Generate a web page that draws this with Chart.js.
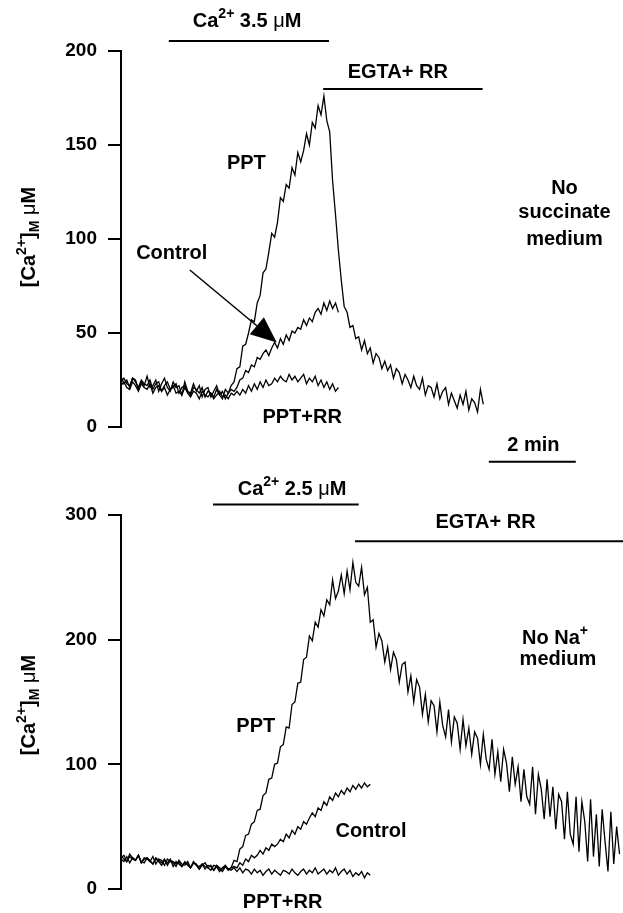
<!DOCTYPE html>
<html>
<head>
<meta charset="utf-8">
<script src="https://cdn.jsdelivr.net/npm/chart.js@4"></script>
<style>
  html, body { margin: 0; padding: 0; background: #fff; }
  #wrap { position: relative; width: 623px; height: 913px; }
  canvas { position: absolute; left: 0; }
  #top { top: 0; }
  #bot { top: 470px; }
</style>
</head>
<body>
<div id="wrap">
  <canvas id="top" width="623" height="470"></canvas>
  <canvas id="bot" width="623" height="443"></canvas>
</div>
<script>
// one sample every 4 s, both recordings
const DT = 4;

// --- No succinate medium (Ca2+ 3.5 uM) ---
const pptTop = [27,23,25,21,26,25,20,24,22,27, 21,22,25,19,23,26,21,19,24,21,
  22,17,24,19,18,23,19,22,16,20, 21,16,19,22,17,15,20,18,
  22,24,31,32,43,44,50,57,56,66, 70,82,84,93,103,101,109,122,120,129,
  127,138,134,146,141,147,156,150,162,159, 171,166,176,163,157,
  131,113,94,78,64, 61,53,54,47,48, 41,46,39,42,34, 39,37,31,35,30,
  33,26,31,29,23, 28,25,21,27,22, 20,26,17,22,21, 16,23,15,19,21,
  12,18,14,10,17, 12,19,9,15,13, 8,20,12];
const controlTop = [24,26,23,22,26,24,21,25,23,22, 25,20,23,24,19,22,24,20,21,23,
  18,21,22,19,17,21,20,18,21,16, 19,18,16,20,17,19,15,18,20,19,
  21,25,26,30,29,33,32,37,36,39, 41,38,42,45,42,47,44,49,46,51,
  50,53,52,57,54,58,56,61,63,60, 66,62,67,63,66,61];
const pptRrTop = [22,24,21,20,24,22,19,23,21,20, 23,18,21,22,19,21,17,20,22,18,
  19,17,21,18,16,19,18,15,19,17, 16,18,15,17,19,16,17,15,18,17,
  19,17,20,18,22,19,23,20,24,21, 25,22,23,26,24,27,25,24,28,25,
  27,24,26,28,23,26,24,27,22,25, 21,24,20,23,19,21];

// --- No Na+ medium (Ca2+ 2.5 uM) ---
const pptBot = [27,24,22,28,25,23,27,21,25,24, 22,26,20,24,23,19,24,22,21,18,
  23,20,19,22,17,21,20,16,19,21, 17,15,19,18,14,17,19,16,
  17,23,22,32,34,43,44,52,54,63, 64,75,77,88,89,100,101,114,116,130,
  129,148,150,165,166,184,186,203,199,214, 210,224,219,232,228,248,233,239,252,237,
  255,240,262,246,243,258,236,242,214,216, 194,205,199,182,194,176,190,184,166,180,
  182,158,171,150,168,162,140,156,134,151, 147,126,150,131,122,144,118,138,133,112,
  136,115,129,108,126,121,100,124,104,96, 120,92,110,86,112,101,78,106,84,98,
  70,96,74,68,98,60,92,80,56,88, 58,82,48,76,70,40,78,44,36,74,
  30,70,54,22,72,26,60,18,64,38, 14,62,20,50,28];
const controlBot = [25,27,22,26,24,23,27,21,24,25, 22,20,25,23,21,24,19,23,22,20,
  22,18,21,20,17,22,19,18,20,16, 19,18,15,19,17,16,18,15,17,18,
  17,21,19,24,22,27,25,27,31,28, 33,31,36,34,36,40,38,44,41,47,
  44,50,48,54,52,57,61,58,65,63, 70,67,74,71,77,74,79,76,81,78,
  83,80,84,81,85,82,84];
const pptRrBot = [24,22,26,21,25,23,27,22,21,25, 23,20,24,22,19,23,21,24,18,22,
  20,18,22,19,17,21,19,16,20,18, 17,19,15,18,16,14,18,16,15,17,
  14,17,13,16,15,12,16,13,15,11, 14,16,12,15,13,11,15,14,12,16,
  13,11,14,16,12,15,13,17,12,14, 16,12,15,13,17,11,14,16,12,15,
  10,13,11,14,9,13,11];

const FAM = '"Liberation Sans", Arial, Helvetica, sans-serif';
Chart.defaults.font.family = FAM;
Chart.defaults.color = '#000';

function trace(vals) {
  return {
    data: vals.map((v, i) => ({ x: i * DT, y: v })),
    borderColor: '#000',
    borderWidth: 1.3,
    pointRadius: 0,
    tension: 0,
    fill: false
  };
}

// tiny markup: ^{..} superscript, _{..} subscript, μ in regular weight
function runs(str) {
  return str.split(/(\^\{[^}]*\}|_\{[^}]*\}|μ)/).filter(s => s).map(s => {
    if (s[0] === '^') return [s.slice(2, -1), 'sup'];
    if (s[0] === '_') return [s.slice(2, -1), 'sub'];
    if (s === 'μ') return [s, 'mu'];
    return [s, 'n'];
  });
}
function runFont(kind, size) {
  if (kind === 'sup' || kind === 'sub') return 'bold ' + Math.round(size * 0.68) + 'px ' + FAM;
  if (kind === 'mu') return size + 'px ' + FAM;
  return 'bold ' + size + 'px ' + FAM;
}
function drawRich(ctx, str, x, y, size) {
  const parts = runs(str);
  let w = 0;
  parts.forEach(p => { ctx.font = runFont(p[1], size); w += ctx.measureText(p[0]).width; });
  let cx = x - w / 2;
  ctx.textAlign = 'left';
  ctx.textBaseline = 'middle';
  parts.forEach(p => {
    ctx.font = runFont(p[1], size);
    const dy = p[1] === 'sup' ? -size * 0.36 : p[1] === 'sub' ? size * 0.3 : 0;
    ctx.fillText(p[0], cx, y + dy);
    cx += ctx.measureText(p[0]).width;
  });
}

const notesPlugin = {
  id: 'notes',
  afterDraw(chart, args, opts) {
    const ctx = chart.ctx, xs = chart.scales.x, ys = chart.scales.y;
    const px = t => xs.getPixelForValue(t), py = v => ys.getPixelForValue(v);
    ctx.save();
    ctx.fillStyle = '#000';
    ctx.strokeStyle = '#000';
    ctx.lineWidth = 2;
    (opts.bars || []).forEach(b => {
      ctx.beginPath();
      ctx.moveTo(px(b[0]), py(b[2]));
      ctx.lineTo(px(b[1]), py(b[2]));
      ctx.stroke();
    });
    (opts.texts || []).forEach(t => drawRich(ctx, t[0], px(t[1]), py(t[2]), 20));
    if (opts.arrow) {
      const a = opts.arrow;
      const x0 = px(a[0]), y0 = py(a[1]), x1 = px(a[2]), y1 = py(a[3]);
      const ang = Math.atan2(y1 - y0, x1 - x0), len = 26, half = 11;
      const bx = x1 - len * Math.cos(ang), by = y1 - len * Math.sin(ang);
      ctx.lineWidth = 1.5;
      ctx.beginPath();
      ctx.moveTo(x0, y0);
      ctx.lineTo(bx, by);
      ctx.stroke();
      ctx.beginPath();
      ctx.moveTo(x1, y1);
      ctx.lineTo(bx + half * Math.sin(ang), by - half * Math.cos(ang));
      ctx.lineTo(bx - half * Math.sin(ang), by + half * Math.cos(ang));
      ctx.closePath();
      ctx.fill();
    }
    if (opts.title) {
      ctx.translate(opts.title[1], opts.title[2]);
      ctx.rotate(-Math.PI / 2);
      drawRich(ctx, opts.title[0], 0, 0, 20);
    }
    ctx.restore();
  }
};

function panel(id, datasets, yMax, step, pad, notes) {
  return new Chart(document.getElementById(id), {
    type: 'line',
    data: { datasets },
    plugins: [notesPlugin],
    options: {
      responsive: false,
      animation: false,
      events: [],
      layout: { padding: { top: pad[0], bottom: pad[1], left: 0, right: 2 } },
      plugins: { legend: { display: false }, tooltip: { enabled: false }, notes },
      scales: {
        x: { type: 'linear', min: 0, max: 690, display: false },
        y: {
          min: 0, max: yMax,
          ticks: { stepSize: step, color: '#000', padding: 11, font: { size: 19, weight: 'bold' } },
          grid: { drawOnChartArea: false, drawTicks: true, tickLength: 13, color: '#000', lineWidth: 2 },
          border: { display: true, color: '#000', width: 2 },
          afterFit(s) { s.width = 121; }
        }
      }
    }
  });
}

panel('top', [trace(pptTop), trace(controlTop), trace(pptRrTop)], 200, 50, [51, 43], {
  bars: [[66, 287, 205.3], [279, 499, 179.8], [507.6, 627.6, -18.5]],
  texts: [
    ['Ca^{2+} 3.5 μM', 174, 215.6],
    ['EGTA+ RR', 382, 188.8],
    ['PPT', 173, 140],
    ['Control', 70, 92.5],
    ['No', 612, 127], ['succinate', 612, 114], ['medium', 612, 100],
    ['PPT+RR', 250, 5.3],
    ['2 min', 569, -9.6]
  ],
  arrow: [95, 83.5, 215, 45],
  title: ['[Ca^{2+}]_{M} μM', 29, 237]
});

panel('bot', [trace(pptBot), trace(controlBot), trace(pptRrBot)], 300, 100, [45, 24], {
  bars: [[127, 328, 308.4], [323, 700, 279]],
  texts: [
    ['Ca^{2+} 2.5 μM', 236, 320.5],
    ['EGTA+ RR', 503, 294],
    ['No Na^{+}', 599, 200.8], ['medium', 603, 184],
    ['PPT', 186, 130],
    ['Control', 345, 45.8],
    ['PPT+RR', 223, -11.2]
  ],
  title: ['[Ca^{2+}]_{M} μM', 29, 235]
});
</script>
</body>
</html>
